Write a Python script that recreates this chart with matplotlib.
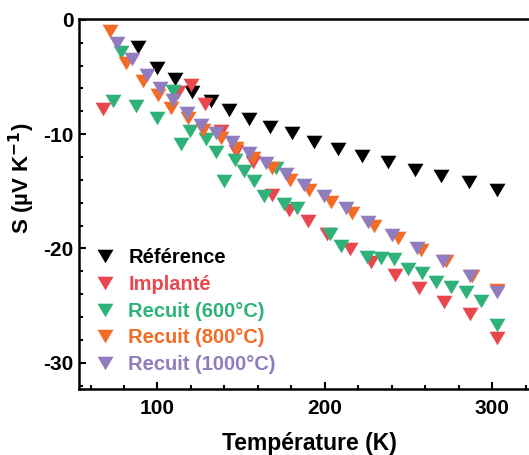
import matplotlib
matplotlib.use('Agg')
import matplotlib.pyplot as plt
from matplotlib.path import Path
from matplotlib.ticker import MultipleLocator

plt.rcParams['font.family'] = ['Liberation Sans', 'DejaVu Sans']
plt.rcParams['font.weight'] = 'bold'
plt.rcParams['axes.unicode_minus'] = False

# Référence
t_ref = [88.5, 100, 110.7, 120.9, 131.8, 142.5, 154.4, 167, 180.3, 193.8,
         207.7, 222.2, 237.9, 253.8, 269.7, 286.2, 302.7]
s_ref = [-2.4, -4.2, -5.2, -6.3, -7.1, -7.9, -8.7, -9.4, -9.9, -10.7,
         -11.3, -11.9, -12.4, -13.1, -13.7, -14.2, -14.9]

# Implanté
t_imp = [67.6, 112.1, 120.3, 128.5, 138.2, 147.0, 156.8, 168.2, 178.6, 189.8,
         201.0, 215.3, 227.8, 242.1, 256.4, 271.3, 286.8, 302.7]
s_imp = [-7.78, -6.29, -5.68, -7.34, -9.76, -11.45, -12.41, -15.3, -16.6, -17.6,
         -18.75, -20.02, -21.15, -22.29, -23.45, -24.65, -25.74, -27.8]

# Recuit (600°C)
t_600 = [73.5, 78.5, 86.9, 100, 109.3, 114.3, 119.3, 129.2, 134.8, 139.5,
         146.1, 151.5, 157.4, 163.6, 171, 175.9, 183.2, 203.3, 209.7, 225.4,
         233.6, 241.5, 249.4, 258, 266.4, 275.3, 284.3, 293.4, 302.6]
s_600 = [-7.14, -2.83, -7.58, -8.6, -6.27, -10.9, -9.76, -10.43, -11.6, -14.13,
         -12.26, -13.26, -14.13, -15.38, -12.96, -16.08, -16.46, -18.7, -19.76, -20.76,
         -20.85, -20.93, -21.77, -22.18, -22.92, -23.34, -23.84, -24.62, -26.69]

# Recuit (800°C)
t_800 = [71.6, 81.1, 91.4, 100.4, 108.3, 118.2, 127.2, 137.7, 147.1, 157.0,
         168.6, 178.9, 190.8, 203.8, 216.3, 229.6, 243.5, 257.4, 272.3, 287.7, 302.8]
s_800 = [-1.02, -3.79, -5.39, -6.56, -7.72, -8.59, -9.62, -10.36, -11.21, -12.09,
         -12.96, -13.99, -14.9, -15.9, -16.9, -18.07, -19.08, -20.1, -21.13, -22.38, -23.65]

# Recuit (1000°C)
t_1000 = [75.6, 84.6, 93.5, 101.4, 109.0, 117.6, 126.0, 134.9, 144.3, 154.4,
          165.0, 176.5, 187.8, 199.8, 212.6, 225.6, 240.1, 255.0, 270.6, 286.7, 302.8]
s_1000 = [-2.04, -3.46, -4.81, -5.97, -6.99, -8.16, -9.18, -9.91, -10.72, -11.65,
          -12.53, -13.49, -14.42, -15.45, -16.5, -17.7, -18.8, -19.96, -21.13, -22.38, -23.83]

labels = ["Référence", "Implanté", "Recuit (600°C)", "Recuit (800°C)", "Recuit (1000°C)"]
colors = ["#000000", "#E8474D", "#2EB27A", "#F26C26", "#917DBE"]

# Origin-style down triangle (wider than tall)
tri = Path([(-1, 0.85), (1, 0.85), (0, -0.85), (-1, 0.85)],
           [Path.MOVETO, Path.LINETO, Path.LINETO, Path.CLOSEPOLY])

fig = plt.figure(figsize=(5.29, 4.55), dpi=100)
ax = fig.add_axes([0.149, 0.145, 0.851, 0.814])

series = [(t_ref, s_ref), (t_imp, s_imp), (t_600, s_600), (t_800, s_800), (t_1000, s_1000)]
for (t, s), lab, c in zip(series, labels, colors):
    ax.plot(t, s, linestyle='none', marker=tri, ms=11.5, color=c,
            markeredgewidth=0, label=lab)

ax.set_xlim(53, 322)
ax.set_ylim(-32.3, 0.1)
ax.xaxis.set_major_locator(MultipleLocator(100))
ax.xaxis.set_minor_locator(MultipleLocator(20))
ax.yaxis.set_major_locator(MultipleLocator(10))
ax.yaxis.set_minor_locator(MultipleLocator(2))
ax.tick_params(which='both', direction='in', width=1.5, labelsize=15)
ax.tick_params(which='major', length=5)
ax.tick_params(which='minor', length=3)
ax.tick_params(axis='x', pad=7)
ax.tick_params(axis='y', pad=4)
for sp in ['left', 'bottom', 'top']:
    ax.spines[sp].set_linewidth(1.8)
ax.spines['right'].set_visible(False)

ax.set_xlabel("Température (K)", fontsize=16.5, fontweight='bold')
ax.xaxis.set_label_coords(0.513, -0.115)
ax.set_ylabel("S (µV K$^{\\mathbf{-1}}$)", fontsize=16, fontweight='bold')
ax.yaxis.set_label_coords(-0.093, 0.568)

leg = ax.legend(loc='lower left', bbox_to_anchor=(0.0, -0.003), frameon=False,
                fontsize=14.5, labelspacing=0.38, handletextpad=0.65,
                handlelength=1.0, borderaxespad=0.4, labelcolor=colors)

plt.savefig("out.png", dpi=100)
